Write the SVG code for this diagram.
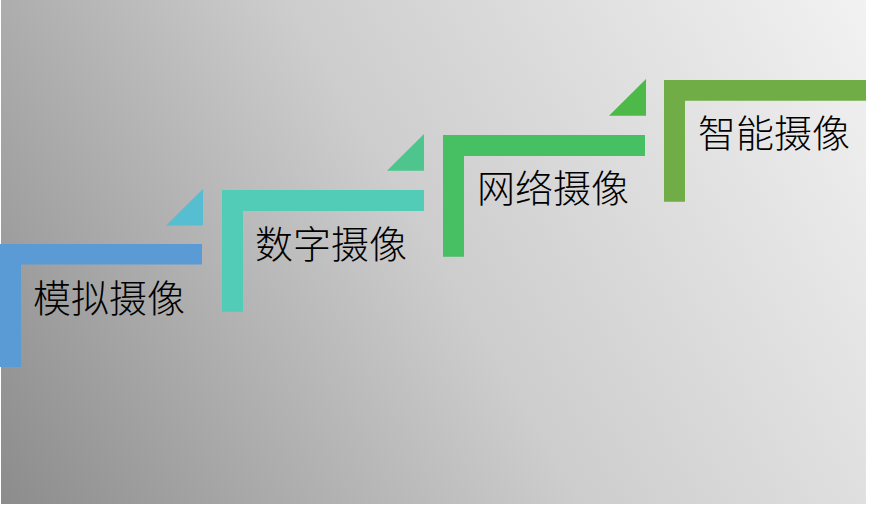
<svg xmlns="http://www.w3.org/2000/svg" width="875" height="505" viewBox="0 0 875 505">
  <defs>
    <linearGradient id="bg" gradientUnits="userSpaceOnUse" x1="866" y1="0" x2="1" y2="504">
      <stop offset="0" stop-color="#f2f2f2"/>
      <stop offset="0.5" stop-color="#cdcdcd"/>
      <stop offset="1" stop-color="#8c8c8c"/>
    </linearGradient>
  </defs>
  <style>
    .lbl { font-family: "Noto Sans CJK SC", "Noto Sans", sans-serif; font-size: 38px; font-weight: 300; fill: #000000; }
  </style>
  <rect x="0" y="0" width="875" height="505" fill="#ffffff"/>
  <rect x="1" y="0" width="865" height="504" fill="url(#bg)"/>

  <g id="connectors">
    <polygon points="166,225.5 203,189 203,225.5" fill="#57bdd0"/>
    <polygon points="387,170.7 424,134 424,170.7" fill="#4dc58c"/>
    <polygon points="609,115.7 646,79 646,115.7" fill="#4db948"/>
  </g>

  <g id="step1">
    <path d="M0,244 H202 V264.5 H21 V367 H0 Z" fill="#5b9bd5"/>
    <text class="lbl" x="33" y="312">模拟摄像</text>
  </g>
  <g id="step2">
    <path d="M222,190 H424 V211 H243 V311.7 H222 Z" fill="#52cbb7"/>
    <text class="lbl" x="255" y="258">数字摄像</text>
  </g>
  <g id="step3">
    <path d="M443,135 H645 V156 H464 V256.7 H443 Z" fill="#47bf63"/>
    <text class="lbl" x="477" y="202">网络摄像</text>
  </g>
  <g id="step4">
    <path d="M664,80 H866 V100.7 H685 V201.7 H664 Z" fill="#70ad47"/>
    <text class="lbl" x="698" y="147">智能摄像</text>
  </g>
</svg>
